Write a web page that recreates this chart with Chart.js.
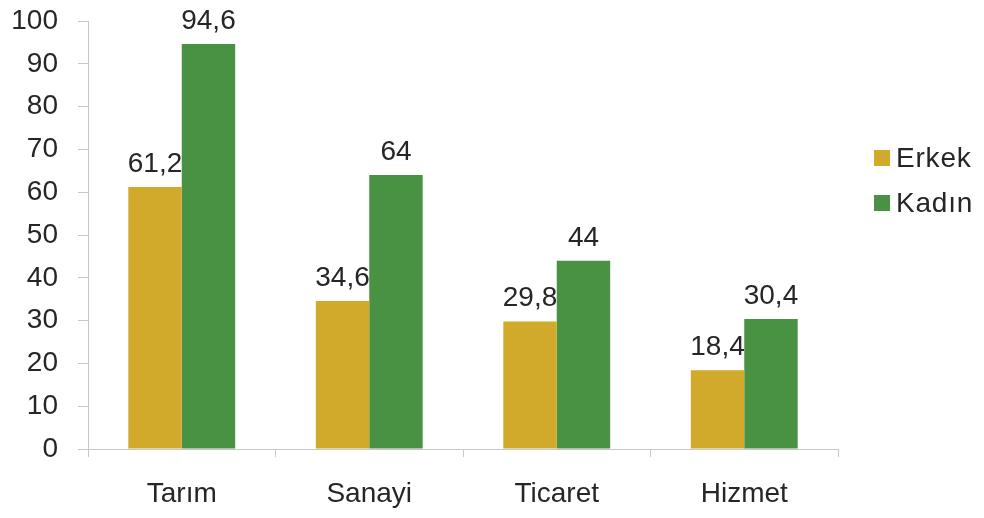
<!DOCTYPE html>
<html>
<head>
<meta charset="utf-8">
<script src="https://cdn.jsdelivr.net/npm/chart.js@4"></script>
<style>
	html, body { margin: 0; padding: 0; background: #fff; }
	#wrap { position: relative; width: 984px; height: 518px; }
	#legend { position: absolute; left: 874px; top: 135px; font-family: 'Liberation Sans', Arial, sans-serif; font-size: 28px; color: #262626; letter-spacing: 0.8px; }
	#legend div { display: flex; align-items: center; height: 45px; }
	#legend span.box { width: 16px; height: 16px; margin-right: 6px; display: inline-block; }
</style>
</head>
<body>
<div id="wrap">
	<canvas id="chart" width="984" height="518"></canvas>
	<div id="legend"></div>
</div>
<script>
// Data
const categories = ['Tarım', 'Sanayi', 'Ticaret', 'Hizmet'];
const erkek = [61.2, 34.6, 29.8, 18.4];
const kadin = [94.6, 64, 44, 30.4];
const seriesNames = ['Erkek', 'Kadın'];
const seriesColors = ['#D1A92B', '#4A9243'];

const fontFamily = "'Liberation Sans', Arial, sans-serif";
const axisColor = '#C8C8C8';
const textColor = '#262626';

// value labels above bars, decimal comma
const valueLabels = {
	id: 'valueLabels',
	afterDatasetsDraw(chart) {
		const ctx = chart.ctx;
		ctx.save();
		ctx.font = `28px ${fontFamily}`;
		ctx.fillStyle = textColor;
		ctx.textAlign = 'center';
		ctx.textBaseline = 'alphabetic';
		chart.data.datasets.forEach((ds, i) => {
			chart.getDatasetMeta(i).data.forEach((bar, j) => {
				const txt = String(ds.data[j]).replace('.', ',');
				ctx.fillText(txt, bar.x, bar.y - 15);
			});
		});
		ctx.restore();
	}
};

new Chart(document.getElementById('chart'), {
	type: 'bar',
	data: {
		labels: categories,
		datasets: [
			{ label: seriesNames[0], data: erkek, backgroundColor: seriesColors[0] },
			{ label: seriesNames[1], data: kadin, backgroundColor: seriesColors[1] }
		]
	},
	options: {
		responsive: false,
		animation: false,
		datasets: { bar: { barPercentage: 1, categoryPercentage: 0.57 } },
		layout: { padding: { top: 21, right: 146, left: 0, bottom: 0 } },
		plugins: { legend: { display: false }, tooltip: { enabled: false } },
		scales: {
			x: {
				grid: { offset: true, drawOnChartArea: false, color: axisColor, tickLength: 8, tickWidth: 1 },
				border: { color: axisColor, width: 1 },
				ticks: { color: textColor, font: { family: fontFamily, size: 28 }, padding: 20 },
				afterFit: (s) => { s.height = 69; s.paddingLeft = 0; s.paddingRight = 0; }
			},
			y: {
				min: 0,
				max: 100,
				ticks: { stepSize: 10, color: textColor, font: { family: fontFamily, size: 28 }, padding: 20 },
				grid: { drawOnChartArea: false, color: axisColor, tickLength: 10 },
				border: { color: axisColor, width: 1 },
				afterFit: (s) => { s.width = 88; s.paddingTop = 0; s.paddingBottom = 0; }
			}
		}
	},
	plugins: [valueLabels]
});

// HTML legend
const legendEl = document.getElementById('legend');
seriesNames.forEach((name, i) => {
	const row = document.createElement('div');
	const box = document.createElement('span');
	box.className = 'box';
	box.style.background = seriesColors[i];
	row.appendChild(box);
	row.appendChild(document.createTextNode(name));
	legendEl.appendChild(row);
});
</script>
</body>
</html>
